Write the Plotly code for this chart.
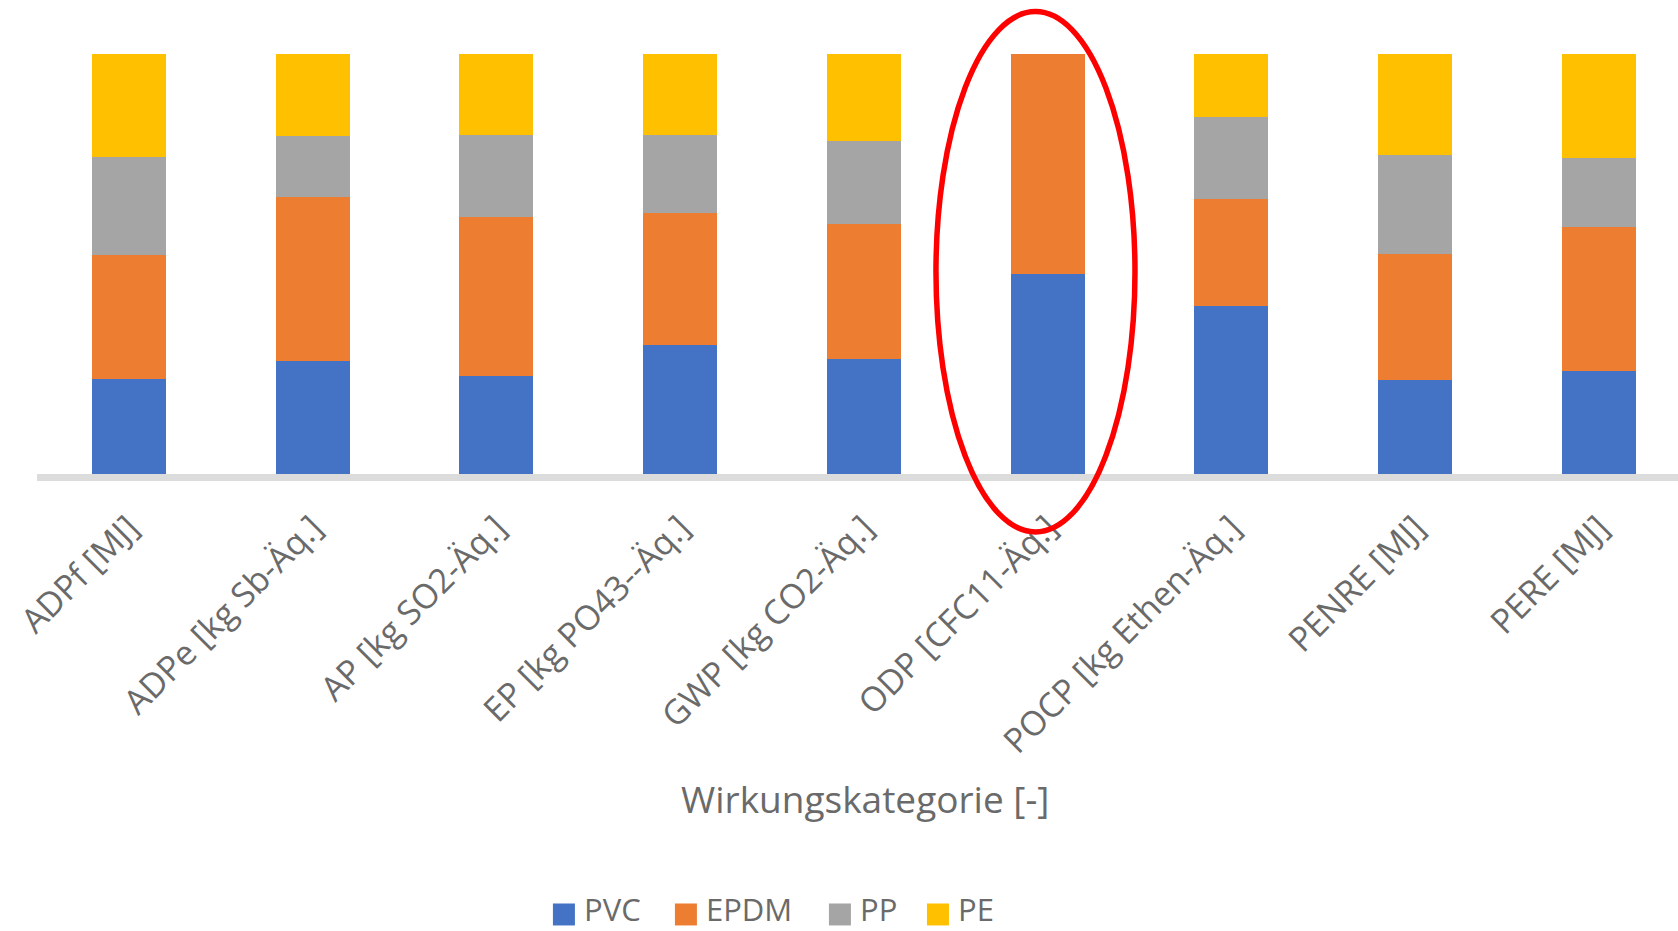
import plotly.graph_objects as go

# Impact categories (x axis)
categories = [
    "ADPf [MJ]",
    "ADPe [kg Sb-Äq.]",
    "AP [kg SO2-Äq.]",
    "EP [kg PO43--Äq.]",
    "GWP [kg CO2-Äq.]",
    "ODP [CFC11-Äq.]",
    "POCP [kg Ethen-Äq.]",
    "PENRE [MJ]",
    "PERE [MJ]",
]

# Share of each material per impact category (100 % stacked)
pvc = [0.226, 0.268, 0.233, 0.307, 0.275, 0.476, 0.401, 0.224, 0.245]
epdm = [0.295, 0.392, 0.380, 0.315, 0.320, 0.524, 0.254, 0.301, 0.344]
pp = [0.233, 0.145, 0.195, 0.185, 0.198, 0.0, 0.196, 0.234, 0.163]
pe = [0.246, 0.195, 0.192, 0.193, 0.207, 0.0, 0.149, 0.241, 0.248]

series_names = ["PVC", "EPDM", "PP", "PE"]
series_values = [pvc, epdm, pp, pe]
series_colors = ["#4472C4", "#ED7D31", "#A5A5A5", "#FFC000"]

axis_title = "Wirkungskategorie [-]"
highlight_category = "ODP [CFC11-Äq.]"

FONT = "Open Sans"
TEXT_COLOR = "#6a6a6a"

W, H = 1678, 931
CAT_STEP = 183.75
PLOT_LEFT = 129 - CAT_STEP / 2
PLOT_TOP = 53.5
PLOT_BOTTOM = 474
PLOT_W = W - PLOT_LEFT
PLOT_H = PLOT_BOTTOM - PLOT_TOP


def xp(px):
    return (px - PLOT_LEFT) / PLOT_W


def yp(py):
    return (PLOT_BOTTOM - py) / PLOT_H


fig = go.Figure()
for name, vals, col in zip(series_names, series_values, series_colors):
    fig.add_trace(go.Bar(
        name=name, x=categories, y=vals,
        marker=dict(color=col, line=dict(width=0)),
        showlegend=False,
    ))

x_end = -0.5 + PLOT_W / CAT_STEP

fig.update_layout(
    width=W, height=H,
    barmode="stack", barnorm="fraction", bargap=0.597,
    plot_bgcolor="white", paper_bgcolor="white",
    margin=dict(l=PLOT_LEFT, r=0, t=PLOT_TOP, b=H - PLOT_BOTTOM, pad=0),
    font=dict(family=FONT, color=TEXT_COLOR),
    xaxis=dict(
        type="category", range=[-0.5, x_end],
        showline=True, linecolor="#dcdcdc", linewidth=7,
        showgrid=False, zeroline=False,
        tickangle=-45, tickfont=dict(family=FONT, size=34, color=TEXT_COLOR),
        ticks="outside", ticklen=13, tickcolor="rgba(0,0,0,0)",
    ),
    yaxis=dict(range=[0, 1], visible=False, fixedrange=True),
)

# axis title centred on the category axis
fig.add_annotation(
    text=axis_title, xref="paper", yref="paper",
    x=xp(865), y=yp(799), xanchor="center", yanchor="middle",
    showarrow=False, font=dict(family=FONT, size=37, color=TEXT_COLOR),
)

# legend row below the chart
legend_left = [553, 675, 829, 927]
SQ = 22
for name, col, lx in zip(series_names, series_colors, legend_left):
    fig.add_shape(
        type="rect", xref="paper", yref="paper",
        x0=xp(lx), x1=xp(lx + SQ), y0=yp(904), y1=yp(904 + SQ),
        fillcolor=col, line=dict(width=0),
    )
    fig.add_annotation(
        text=name, xref="paper", yref="paper",
        x=xp(lx + SQ + 8), y=yp(910), xanchor="left", yanchor="middle",
        showarrow=False, borderpad=0,
        font=dict(family=FONT, size=31, color=TEXT_COLOR),
    )

# red ellipse marking the ODP column (paper y so it is not clipped)
idx = categories.index(highlight_category)
fig.add_shape(
    type="circle", xref="x", yref="paper",
    x0=idx - 0.608, x1=idx + 0.475, y0=-0.138, y1=1.101,
    line=dict(color="#FF0000", width=5.5), fillcolor="rgba(0,0,0,0)",
)

fig.write_html("out.html")
